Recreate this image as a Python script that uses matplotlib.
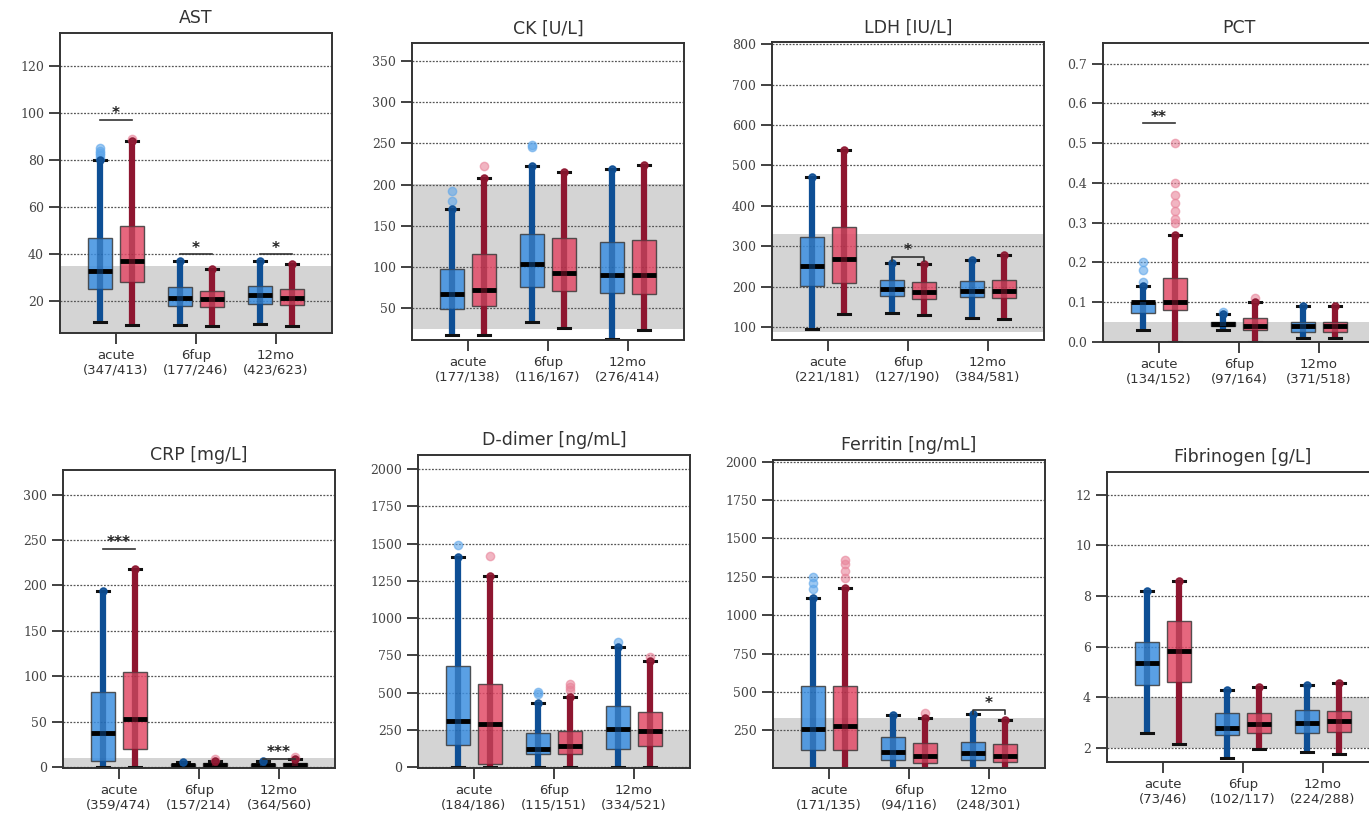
import matplotlib
matplotlib.use("Agg")
import matplotlib.pyplot as plt
from matplotlib.ticker import FormatStrFormatter

# ---------------- data ----------------
GROUPS = ["acute", "6fup", "12mo"]

# each box: (whislo, q1, median, q3, whishi)
AST_TITLE = "AST"
AST_N = [(347, 413), (177, 246), (423, 623)]
AST_BLUE = [(11, 25, 33, 47, 80), (10, 18, 21.5, 26, 37), (10.5, 19, 22.5, 26.5, 37)]
AST_RED = [(10, 28, 37, 52, 88), (9.5, 17.5, 21, 24.5, 33.5), (9.5, 18.5, 21.5, 25, 36)]
AST_BLUE_FL = [[81, 82, 83, 84, 85], [], []]
AST_RED_FL = [[89], [], []]
AST_SIG = [(0, 97, "*", False), (1, 40, "*", False), (2, 40, "*", False)]
AST_REF = (0, 35)
AST_YLIM = (6.5, 134)
AST_YTICKS = [20, 40, 60, 80, 100, 120]

CK_TITLE = "CK [U/L]"
CK_N = [(177, 138), (116, 167), (276, 414)]
CK_BLUE = [(17, 49, 67, 97, 170), (33, 75, 103, 140, 223), (12, 68, 90, 130, 219)]
CK_RED = [(17, 52, 72, 115, 208), (25, 70, 92, 135, 215), (23, 67, 90, 132, 224)]
CK_BLUE_FL = [[180, 192], [245, 248], []]
CK_RED_FL = [[223], [], []]
CK_SIG = []
CK_REF = (24, 201)
CK_YLIM = (11, 372)
CK_YTICKS = [50, 100, 150, 200, 250, 300, 350]

LDH_TITLE = "LDH [IU/L]"
LDH_N = [(221, 181), (127, 190), (384, 581)]
LDH_BLUE = [(97, 202, 253, 323, 472), (136, 178, 195, 218, 260), (124, 175, 190, 215, 267)]
LDH_RED = [(132, 210, 270, 347, 538), (130, 170, 187, 213, 257), (120, 172, 190, 218, 278)]
LDH_BLUE_FL = [[], [], []]
LDH_RED_FL = [[], [], []]
LDH_SIG = [(1, 275, "*", True)]
LDH_REF = (88, 330)
LDH_YLIM = (69, 805)
LDH_YTICKS = [100, 200, 300, 400, 500, 600, 700, 800]

PCT_TITLE = "PCT"
PCT_N = [(134, 152), (97, 164), (371, 518)]
PCT_BLUE = [(0.03, 0.072, 0.10, 0.10, 0.14), (0.03, 0.04, 0.045, 0.05, 0.07), (0.01, 0.025, 0.04, 0.05, 0.09)]
PCT_RED = [(0.0, 0.08, 0.10, 0.16, 0.27), (0.0, 0.03, 0.04, 0.06, 0.10), (0.01, 0.025, 0.04, 0.05, 0.09)]
PCT_BLUE_FL = [[0.15, 0.18, 0.2], [0.075], []]
PCT_RED_FL = [[0.3, 0.31, 0.33, 0.35, 0.37, 0.4, 0.5], [0.11], []]
PCT_SIG = [(0, 0.55, "**", False)]
PCT_REF = (0, 0.05)
PCT_YLIM = (0, 0.752)
PCT_YTICKS = [0.0, 0.1, 0.2, 0.3, 0.4, 0.5, 0.6, 0.7]

CRP_TITLE = "CRP [mg/L]"
CRP_N = [(359, 474), (157, 214), (364, 560)]
CRP_BLUE = [(0, 7, 37, 83, 194), (0.5, 1, 2, 3.5, 6), (0.5, 1, 2, 3.5, 7)]
CRP_RED = [(0, 20, 53, 105, 218), (0.5, 1, 2.5, 4, 7), (0.5, 1, 2.5, 4.5, 9)]
CRP_BLUE_FL = [[], [], []]
CRP_RED_FL = [[], [9], [11]]
CRP_SIG = [(0, 240, "***", False), (2, 9, "***", False)]
CRP_REF = (0, 10)
CRP_YLIM = (-1, 327)
CRP_YTICKS = [0, 50, 100, 150, 200, 250, 300]

DD_TITLE = "D-dimer [ng/mL]"
DD_N = [(184, 186), (115, 151), (334, 521)]
DD_BLUE = [(0, 150, 310, 680, 1410), (0, 90, 120, 230, 430), (0, 120, 260, 410, 810)]
DD_RED = [(0, 20, 290, 560, 1280), (0, 90, 140, 240, 470), (0, 140, 240, 370, 710)]
DD_BLUE_FL = [[1490], [490, 505], [840]]
DD_RED_FL = [[1420], [520, 540, 560], [740]]
DD_SIG = []
DD_REF = (0, 252)
DD_YLIM = (-5, 2095)
DD_YTICKS = [0, 250, 500, 750, 1000, 1250, 1500, 1750, 2000]

FER_TITLE = "Ferritin [ng/mL]"
FER_N = [(171, 135), (94, 116), (248, 301)]
FER_BLUE = [(0, 120, 260, 540, 1110), (0, 55, 110, 210, 350), (0, 55, 105, 175, 355)]
FER_RED = [(0, 125, 280, 540, 1180), (0, 40, 80, 170, 330), (0, 45, 85, 160, 315)]
FER_BLUE_FL = [[1170, 1210, 1250], [], []]
FER_RED_FL = [[1240, 1290, 1330, 1360], [360], []]
FER_SIG = [(2, 385, "*", True)]
FER_REF = (0, 330)
FER_YLIM = (5, 2010)
FER_YTICKS = [250, 500, 750, 1000, 1250, 1500, 1750, 2000]

FIB_TITLE = "Fibrinogen [g/L]"
FIB_N = [(73, 46), (102, 117), (224, 288)]
FIB_BLUE = [(2.6, 4.5, 5.35, 6.2, 8.2), (1.6, 2.5, 2.8, 3.4, 4.3), (1.85, 2.6, 3.0, 3.5, 4.5)]
FIB_RED = [(2.15, 4.6, 5.85, 7.0, 8.6), (1.95, 2.6, 2.95, 3.4, 4.4), (1.75, 2.65, 3.05, 3.45, 4.55)]
FIB_BLUE_FL = [[], [], []]
FIB_RED_FL = [[], [], []]
FIB_SIG = []
FIB_REF = (2, 4)
FIB_YLIM = (1.45, 12.9)
FIB_YTICKS = [2, 4, 6, 8, 10, 12]

PANELS = [
    (AST_TITLE, AST_N, AST_BLUE, AST_RED, AST_BLUE_FL, AST_RED_FL, AST_SIG, AST_REF, AST_YLIM, AST_YTICKS, "%d"),
    (CK_TITLE, CK_N, CK_BLUE, CK_RED, CK_BLUE_FL, CK_RED_FL, CK_SIG, CK_REF, CK_YLIM, CK_YTICKS, "%d"),
    (LDH_TITLE, LDH_N, LDH_BLUE, LDH_RED, LDH_BLUE_FL, LDH_RED_FL, LDH_SIG, LDH_REF, LDH_YLIM, LDH_YTICKS, "%d"),
    (PCT_TITLE, PCT_N, PCT_BLUE, PCT_RED, PCT_BLUE_FL, PCT_RED_FL, PCT_SIG, PCT_REF, PCT_YLIM, PCT_YTICKS, "%.1f"),
    (CRP_TITLE, CRP_N, CRP_BLUE, CRP_RED, CRP_BLUE_FL, CRP_RED_FL, CRP_SIG, CRP_REF, CRP_YLIM, CRP_YTICKS, "%d"),
    (DD_TITLE, DD_N, DD_BLUE, DD_RED, DD_BLUE_FL, DD_RED_FL, DD_SIG, DD_REF, DD_YLIM, DD_YTICKS, "%d"),
    (FER_TITLE, FER_N, FER_BLUE, FER_RED, FER_BLUE_FL, FER_RED_FL, FER_SIG, FER_REF, FER_YLIM, FER_YTICKS, "%d"),
    (FIB_TITLE, FIB_N, FIB_BLUE, FIB_RED, FIB_BLUE_FL, FIB_RED_FL, FIB_SIG, FIB_REF, FIB_YLIM, FIB_YTICKS, "%d"),
]

# ---------------- style / layout ----------------
W, H = 1369, 825
RECTS = [
    (60, 33, 272, 300), (412, 43, 272, 297), (772, 42, 272, 298), (1103, 43, 272, 299),
    (63, 470, 272, 298), (418, 455, 272, 313), (773, 460, 272, 308), (1107, 472, 272, 290),
]
BLUE_FACE, BLUE_DARK, BLUE_FL = "#3d8fe0", "#0e4f95", "#5ea6ea"
RED_FACE, RED_DARK, RED_FL = "#e24c68", "#8e1630", "#e8849a"
OFF, BW, CAPW = 0.2, 0.31, 0.15

plt.rcParams["font.family"] = ["DejaVu Sans"]
fig = plt.figure(figsize=(W / 100, H / 100), dpi=100)


def draw_boxes(ax, boxes, fliers, xs, face, dark, flc):
    stats = []
    for (lo, q1, med, q3, hi), fl in zip(boxes, fliers):
        stats.append(dict(whislo=lo, q1=q1, med=med, q3=q3, whishi=hi, fliers=fl))
    ax.bxp(stats, positions=xs, widths=BW, capwidths=[CAPW] * len(xs),
           patch_artist=True, manage_ticks=False,
           boxprops=dict(facecolor=face, edgecolor="#3a3a3a", linewidth=1.0, alpha=0.85),
           whiskerprops=dict(color=dark, linewidth=4.5, solid_capstyle="butt"),
           capprops=dict(color="#111111", linewidth=2.2),
           medianprops=dict(color="black", linewidth=3.5, solid_capstyle="butt"),
           flierprops=dict(marker="o", markersize=6, markerfacecolor=flc,
                           markeredgecolor=flc, alpha=0.6))
    for x, (lo, q1, med, q3, hi) in zip(xs, boxes):
        ax.vlines(x, q1, q3, color=dark, linewidth=4.5, alpha=0.5, zorder=2.5)
        ax.plot([x, x], [hi, hi], marker="o", markersize=5, color=dark, alpha=0.7, zorder=2.6)


for (title, ns, blue, red, bfl, rfl, sig, ref, ylim, yticks, fmt), (l, t, w, h) in zip(PANELS, RECTS):
    ax = fig.add_axes([l / W, 1 - (t + h) / H, w / W, h / H])
    ax.set_xlim(-0.7, 2.7)
    ax.set_ylim(*ylim)
    ax.axhspan(ref[0], ref[1], color="#d4d4d4", zorder=0, linewidth=0)
    ax.set_yticks(yticks)
    ax.yaxis.set_major_formatter(FormatStrFormatter(fmt))
    ax.grid(axis="y", color="#555555", linestyle=(0, (1.5, 1.2)), linewidth=0.9, zorder=1)
    ax.set_axisbelow(True)
    xs = list(range(len(GROUPS)))
    draw_boxes(ax, blue, bfl, [x - OFF for x in xs], BLUE_FACE, BLUE_DARK, BLUE_FL)
    draw_boxes(ax, red, rfl, [x + OFF for x in xs], RED_FACE, RED_DARK, RED_FL)
    for g, y, txt, bracket in sig:
        x0, x1 = g - OFF, g + OFF
        if bracket:
            d = (ylim[1] - ylim[0]) * 0.015
            ax.plot([x0, x0, x1, x1], [y - d, y, y, y - d], color="#333333", lw=1.2, zorder=5)
        else:
            ax.plot([x0, x1], [y, y], color="#333333", lw=1.2, zorder=5)
        ax.annotate(txt, xy=(g, y), xytext=(0, -1), textcoords="offset points",
                    ha="center", va="bottom", fontsize=11, fontweight="bold",
                    color="#222222", zorder=6)
    ax.set_xticks(xs)
    ax.set_xticklabels([f"{g}\n({a}/{b})" for g, (a, b) in zip(GROUPS, ns)],
                       fontsize=9.5, color="#333333", linespacing=1.15)
    for lab in ax.get_yticklabels():
        lab.set_fontfamily("DejaVu Serif")
        lab.set_fontsize(9)
        lab.set_color("#444444")
    ax.tick_params(axis="both", length=8, width=1.3, color="#333333", pad=3.5)
    for sp in ax.spines.values():
        sp.set_color("#333333")
        sp.set_linewidth(1.4)
    ax.set_title(title, fontsize=12.5, color="#333333", pad=7)

fig.savefig("out.png", dpi=100)
